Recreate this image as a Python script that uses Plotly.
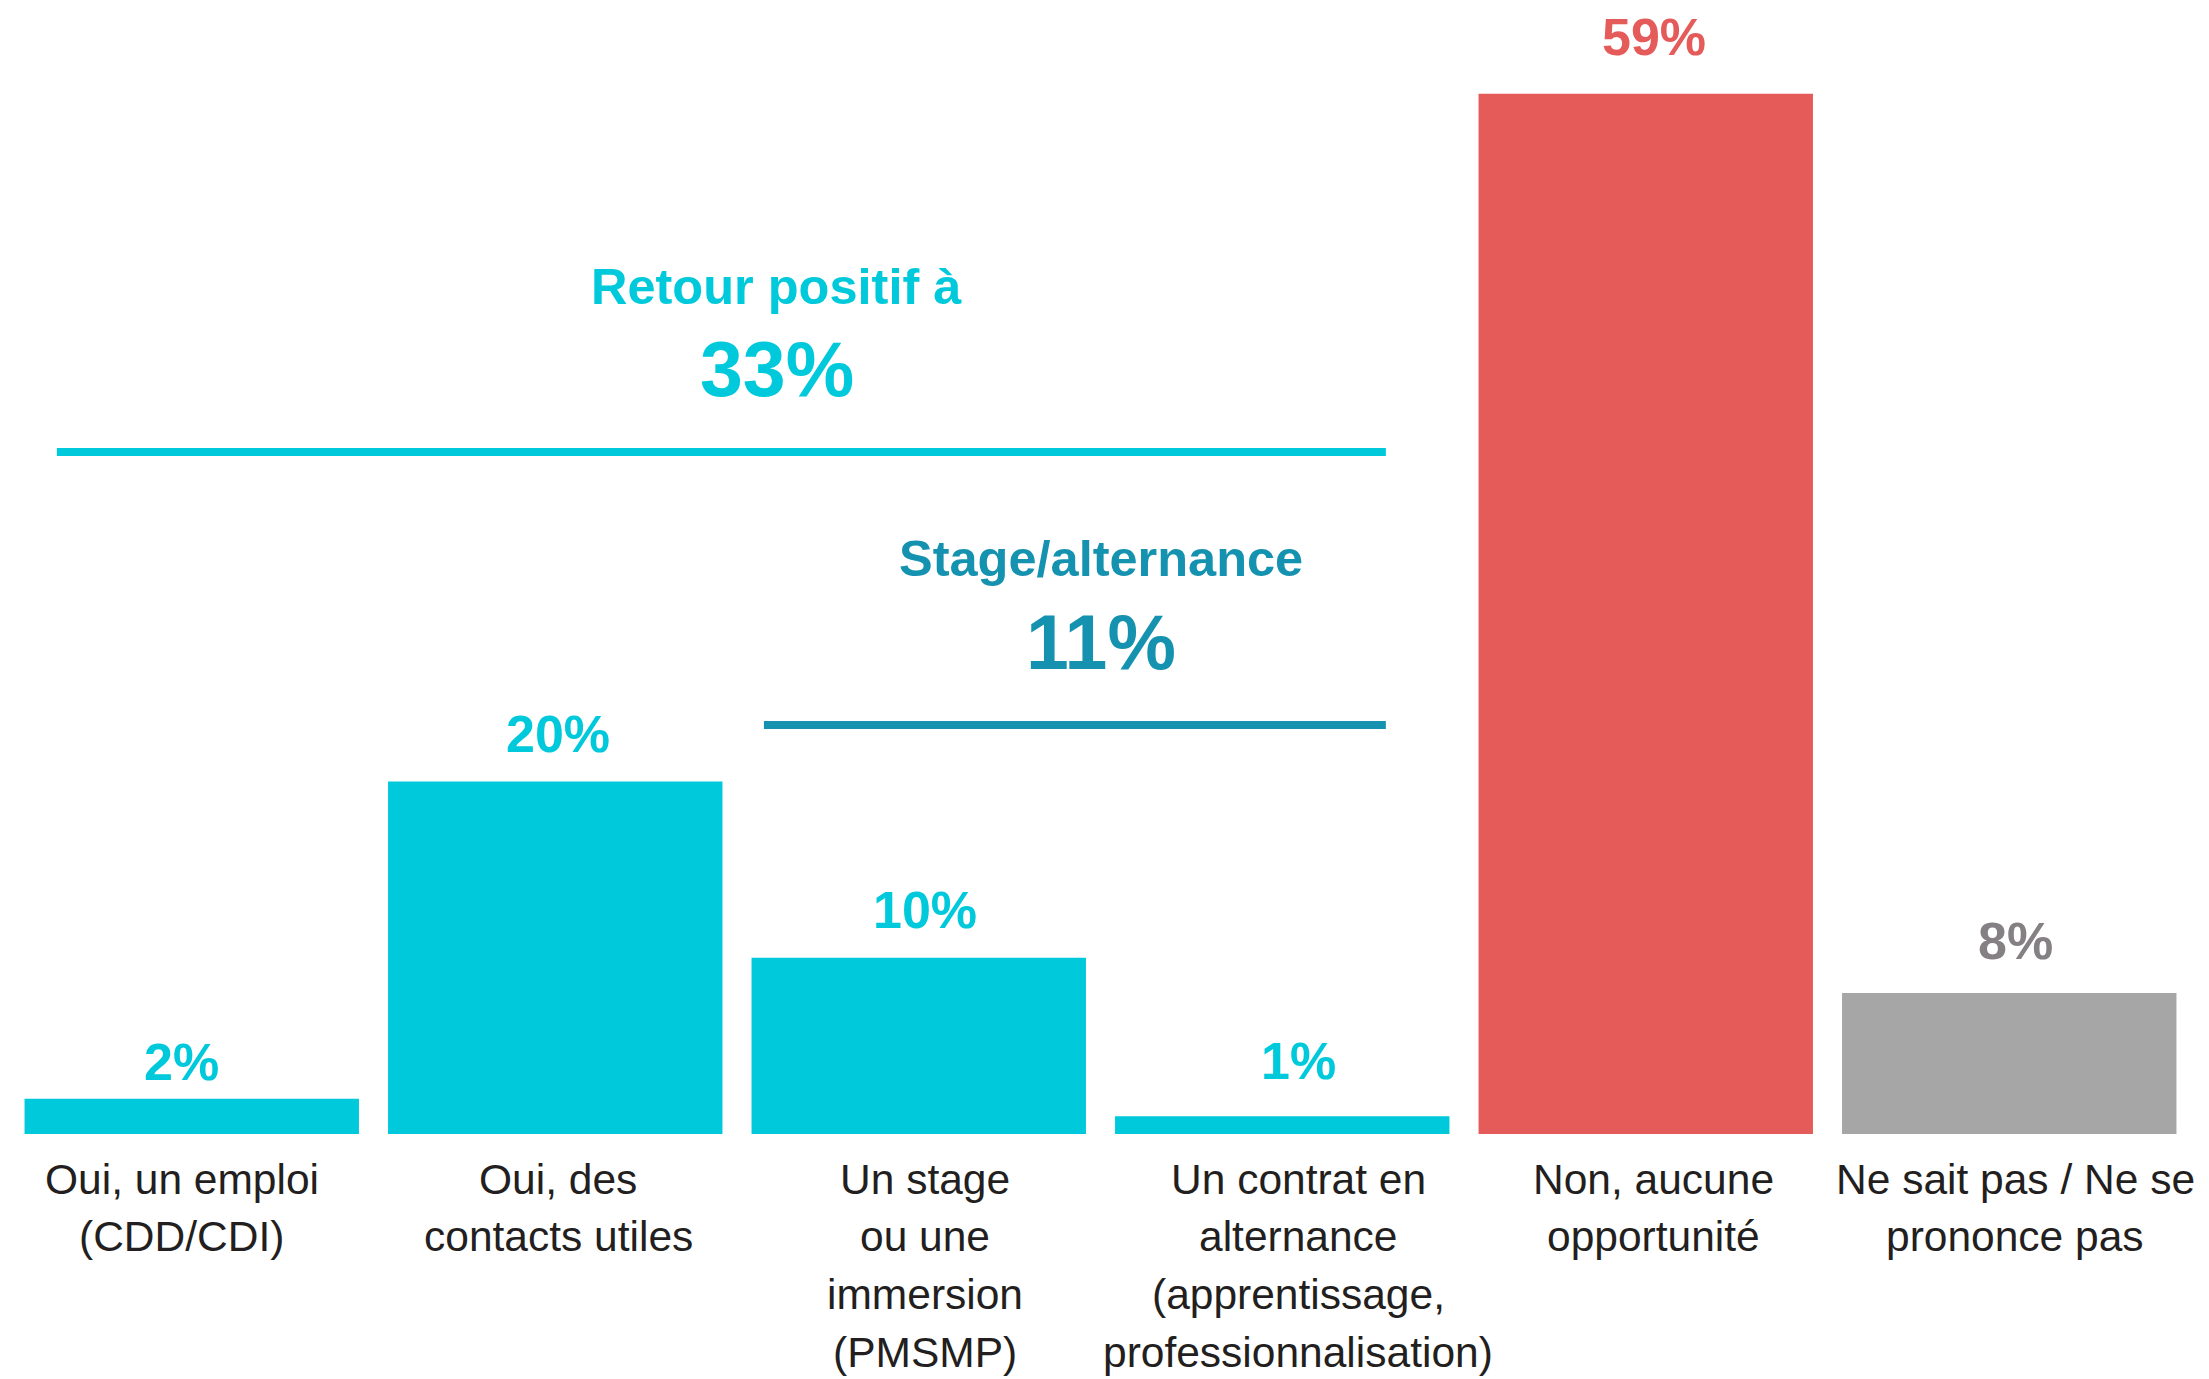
import plotly.graph_objects as go

# ---------------- data ----------------
categories = [
    "Oui, un emploi<br>(CDD/CDI)",
    "Oui, des<br>contacts utiles",
    "Un stage<br>ou une<br>immersion<br>(PMSMP)",
    "Un contrat en<br>alternance<br>(apprentissage,<br>professionnalisation)",
    "Non, aucune<br>opportunité",
    "Ne sait pas / Ne se<br>prononce pas",
]
values = [2, 20, 10, 1, 59, 8]
value_labels = ["2%", "20%", "10%", "1%", "59%", "8%"]

group_titles = ["Retour positif à", "Stage/alternance"]
group_totals = ["33%", "11%"]

# ---------------- styles ----------------
CYAN = "#00C9DB"
TEAL = "#1592AF"
RED = "#E55B5A"
GREY = "#A6A6A6"
GREY_TXT = "#848084"
DARK = "#231F20"
FONT = "Liberation Sans, Arial, sans-serif"

bar_colors = [CYAN, CYAN, CYAN, CYAN, RED, GREY]
label_colors = [CYAN, CYAN, CYAN, CYAN, RED, GREY_TXT]
label_lift = [37, 47, 48, 55, 57, 52]      # px between bar top and label centre
text_xshift = [-10, 3, 6, 16, 8, 6]        # px horizontal nudge of column texts

x_idx = list(range(len(categories)))

fig = go.Figure()
fig.add_trace(go.Bar(
    x=x_idx,
    y=values,
    width=0.92,
    marker=dict(color=bar_colors, line=dict(width=0)),
    hoverinfo="skip",
    showlegend=False,
))

annotations = []
# value labels
for i, (v, t) in enumerate(zip(values, value_labels)):
    annotations.append(dict(
        x=i, y=v, xref="x", yref="y", text=t, showarrow=False,
        yanchor="middle", xanchor="center", yshift=label_lift[i],
        xshift=text_xshift[i],
        font=dict(family=FONT, size=52, color=label_colors[i], weight="bold"),
    ))

# category labels (one annotation per line to control line spacing)
for i, lab in enumerate(categories):
    for k, line in enumerate(lab.split("<br>")):
        annotations.append(dict(
            x=i, y=0, xref="x", yref="y", text=line, showarrow=False,
            yanchor="middle", xanchor="center", yshift=-(45 + 57.8 * k),
            xshift=text_xshift[i], borderpad=0,
            font=dict(family=FONT, size=42.5, color=DARK),
        ))

# group annotations
group_x = [1.61, 2.50]
group_title_y = [48.05, 32.67]
group_total_y = [43.39, 27.88]
group_colors = [CYAN, TEAL]
for gx, gty, gvy, title, total, col in zip(group_x, group_title_y, group_total_y,
                                           group_titles, group_totals, group_colors):
    annotations.append(dict(
        x=gx, y=gty, xref="x", yref="y", text=title, showarrow=False,
        yanchor="middle", xanchor="center",
        font=dict(family=FONT, size=50.5, color=col, weight="bold"),
    ))
    annotations.append(dict(
        x=gx, y=gvy, xref="x", yref="y", text=total, showarrow=False,
        yanchor="middle", xanchor="center",
        font=dict(family=FONT, size=77, color=col, weight="bold"),
    ))

shapes = [
    dict(type="line", xref="x", yref="y", x0=-0.371, x1=3.285, y0=38.68, y1=38.68,
         line=dict(color=CYAN, width=8)),
    dict(type="line", xref="x", yref="y", x0=1.574, x1=3.285, y0=23.2, y1=23.2,
         line=dict(color=TEAL, width=8)),
]

fig.update_layout(
    width=2209,
    height=1379,
    margin=dict(l=10, r=18, t=0, b=245),
    paper_bgcolor="white",
    plot_bgcolor="white",
    annotations=annotations,
    shapes=shapes,
    xaxis=dict(range=[-0.5, 5.5], showticklabels=False, showgrid=False,
               zeroline=False, showline=False, ticks=""),
    yaxis=dict(range=[0, 64.32], showticklabels=False, showgrid=False,
               zeroline=False, showline=False, ticks=""),
    font=dict(family=FONT),
)

fig.write_html("out.html", config={"displayModeBar": False},
               post_script="document.body.style.margin='0px';")
